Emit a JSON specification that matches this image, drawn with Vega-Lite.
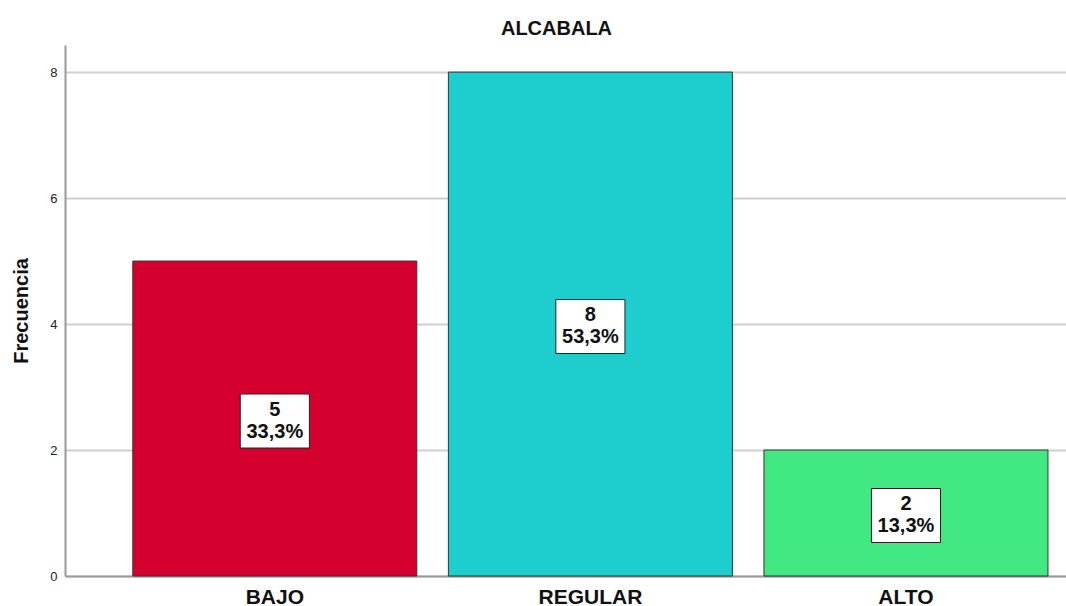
{
  "$schema": "https://vega.github.io/schema/vega-lite/v6.json",
  "width": 1001,
  "height": 531,
  "autosize": {"type": "none"},
  "padding": {"left": 65, "top": 45, "right": 0, "bottom": 30},
  "background": "white",
  "config": {
    "font": "Liberation Sans",
    "view": {"stroke": null}
  },
  "title": {
    "text": "ALCABALA",
    "fontSize": 20,
    "fontWeight": "bold",
    "color": "#111",
    "offset": 6,
    "dx": -9
  },
  "data": {
    "values": [
      {"cat": "BAJO", "count": 5, "pct": "33,3%"},
      {"cat": "REGULAR", "count": 8, "pct": "53,3%"},
      {"cat": "ALTO", "count": 2, "pct": "13,3%"}
    ]
  },
  "encoding": {
    "x": {
      "field": "cat",
      "type": "nominal",
      "sort": ["BAJO", "REGULAR", "ALTO"],
      "scale": {"paddingInner": 0.1, "paddingOuter": 0.136, "align": 0.79},
      "axis": {
        "title": null,
        "labelAngle": 0,
        "labelFontSize": 21,
        "labelFontWeight": "bold",
        "labelColor": "#111",
        "labelPadding": 10,
        "ticks": false,
        "domainColor": "#999",
        "domainWidth": 2
      }
    }
  },
  "layer": [
    {
      "mark": {"type": "bar", "stroke": "#333", "strokeWidth": 1},
      "encoding": {
        "y": {
          "field": "count",
          "type": "quantitative",
          "scale": {"domain": [0, 8.43], "nice": false},
          "axis": {
            "title": "Frecuencia",
            "titleFontSize": 20,
            "titleFontWeight": "bold",
            "titleColor": "#111",
            "titlePadding": 18,
            "values": [0, 2, 4, 6, 8],
            "format": "d",
            "labelFontSize": 13,
            "labelColor": "#222",
            "labelPadding": 8,
            "ticks": false,
            "domainColor": "#999",
            "domainWidth": 2,
            "grid": true,
            "gridColor": "#d0d0d0",
            "gridWidth": 2
          }
        },
        "color": {
          "field": "cat",
          "type": "nominal",
          "scale": {
            "domain": ["BAJO", "REGULAR", "ALTO"],
            "range": ["#d4002d", "#1ecece", "#42e882"]
          },
          "legend": null
        }
      }
    },
    {
      "transform": [{"calculate": "datum.count / 2", "as": "mid"}],
      "layer": [
        {
          "mark": {
            "type": "point",
            "shape": "M-1.28,-1L1.28,-1L1.28,1L-1.28,1Z",
            "size": 2916,
            "filled": true,
            "fill": "white",
            "stroke": "#222",
            "strokeWidth": 1,
            "opacity": 1,
            "yOffset": 2.5
          },
          "encoding": {
            "y": {"field": "mid", "type": "quantitative"}
          }
        },
        {
          "mark": {"type": "text", "fontSize": 20, "fontWeight": "bold", "color": "#111", "dy": -9},
          "encoding": {
            "y": {"field": "mid", "type": "quantitative"},
            "text": {"field": "count", "type": "quantitative"}
          }
        },
        {
          "mark": {"type": "text", "fontSize": 20, "fontWeight": "bold", "color": "#111", "dy": 13},
          "encoding": {
            "y": {"field": "mid", "type": "quantitative"},
            "text": {"field": "pct", "type": "nominal"}
          }
        }
      ]
    }
  ]
}
